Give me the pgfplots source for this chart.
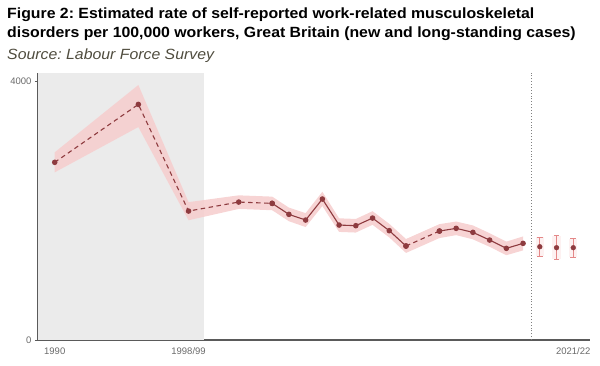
\documentclass[border=0pt]{standalone}
\usepackage{pgfplots}
\pgfplotsset{compat=1.18}
\usepackage{fontspec}
\setmainfont{Liberation Sans}
\newfontfamily\titlefont[FakeStretch=1.07]{Liberation Sans}
\frenchspacing
\definecolor{bandc}{HTML}{F6CFCF}
\definecolor{bandlt}{HTML}{FDF1F1}
\definecolor{linec}{HTML}{8E3B3F}
\definecolor{errc}{HTML}{E48888}
\definecolor{shadec}{HTML}{EBEBEB}
\definecolor{axc}{HTML}{5A5A5A}
\definecolor{tickc}{HTML}{6A6A6A}
\definecolor{srcc}{HTML}{4F4C3E}
\begin{document}
\begin{tikzpicture}
\useasboundingbox (-38pt,-25pt) rectangle (562pt,340pt);
\node[anchor=base west, inner sep=0pt, font=\titlefont\fontsize{14.8}{16}\selectfont\bfseries] at (-31pt,321pt) {Figure 2: Estimated rate of self-reported work-related musculoskeletal};
\node[anchor=base west, inner sep=0pt, font=\titlefont\fontsize{14.8}{16}\selectfont\bfseries] at (-31pt,302pt) {disorders per 100,000 workers, Great Britain (new and long-standing cases)};
\node[anchor=base west, inner sep=0pt, font=\titlefont\fontsize{14.8}{16}\selectfont\itshape, text=srcc] at (-31pt,281pt) {Source: Labour Force Survey};
\begin{axis}[
  at={(0pt,0pt)}, anchor=south west,
  scale only axis, width=552pt, height=267pt,
  xmin=-1, xmax=32, ymin=0, ymax=4125,
  axis x line=bottom, axis y line=left,
  axis line style={-, draw=axc, line width=1.1pt},
  xtick={0,8,31}, xticklabels={1990,1998/99,2021/22},
  major x tick style={draw=none},
  ytick={0,4000},
  major y tick style={draw=axc, line width=0.6pt},
  tick align=outside, major tick length=3pt,
  ticklabel style={font=\fontsize{9.5}{11}\selectfont, text=tickc},
  /pgf/number format/assume math mode=true,
  /pgf/number format/set thousands separator={},
  xticklabel style={yshift=-1.5pt},
  clip=false,
]
% shaded region
\addplot[fill=shadec, draw=none] coordinates {(-1,0) (8.95,0) (8.95,4125) (-1,4125)} -- cycle;
% confidence band
\addplot[fill=bandc, draw=none, opacity=0.9] coordinates {
(0,2900) (5,3940) (8,2130) (11,2235) (13,2215) (14,2045) (15,1960) (16,2290) (17,1880) (18,1870) (19,1990) (20,1795) (21,1560) (23,1790) (24,1830) (25,1770) (26,1650) (27,1520) (28,1600)
(28,1385) (27,1310) (26,1440) (25,1555) (24,1620) (23,1575) (21,1345) (20,1585) (19,1780) (18,1660) (17,1670) (16,2070) (15,1745) (14,1835) (13,2005) (11,2025) (8,1850) (5,3290) (0,2590)
} -- cycle;
% faint bands behind error bars
\addplot[fill=bandlt, draw=none] coordinates {(28.75,1297) (29.25,1297) (29.25,1590) (28.75,1590)} -- cycle;
\addplot[fill=bandlt, draw=none] coordinates {(29.75,1251) (30.25,1251) (30.25,1611) (29.75,1611)} -- cycle;
\addplot[fill=bandlt, draw=none] coordinates {(30.75,1278) (31.25,1278) (31.25,1564) (30.75,1564)} -- cycle;
% dotted divider
\addplot[draw=gray, dotted, line width=0.9pt] coordinates {(28.5,0) (28.5,4125)};
% dashed parts
\addplot[linec, line width=1.1pt, dash pattern=on 4.5pt off 3.5pt, mark=*, mark size=2.2pt, mark options={solid}] coordinates {(0,2745) (5,3640) (8,1992) (11,2131) (13,2111)};
\addplot[linec, line width=1.1pt, dash pattern=on 4.5pt off 3.5pt, mark=*, mark size=2.2pt, mark options={solid}] coordinates {(21,1452) (23,1683)};
% solid parts
\addplot[linec, line width=1.1pt, mark=*, mark size=2.2pt] coordinates {(13,2111) (14,1941) (15,1853) (16,2178) (17,1776) (18,1766) (19,1884) (20,1689) (21,1452)};
\addplot[linec, line width=1.1pt, mark=*, mark size=2.2pt] coordinates {(23,1683) (24,1725) (25,1663) (26,1544) (27,1416) (28,1493)};
% error bars
\addplot[only marks, mark=*, mark size=2.4pt, color=linec,
  error bars/.cd, y dir=both, y explicit,
  error bar style={errc, line width=1pt},
  error mark options={errc, line width=1pt, rotate=90, mark size=2.8pt}]
  coordinates {(29,1441) += (0,149) -= (0,144)
               (30,1426) += (0,185) -= (0,175)
               (31,1426) += (0,138) -= (0,148)};
\end{axis}
\end{tikzpicture}
\end{document}
